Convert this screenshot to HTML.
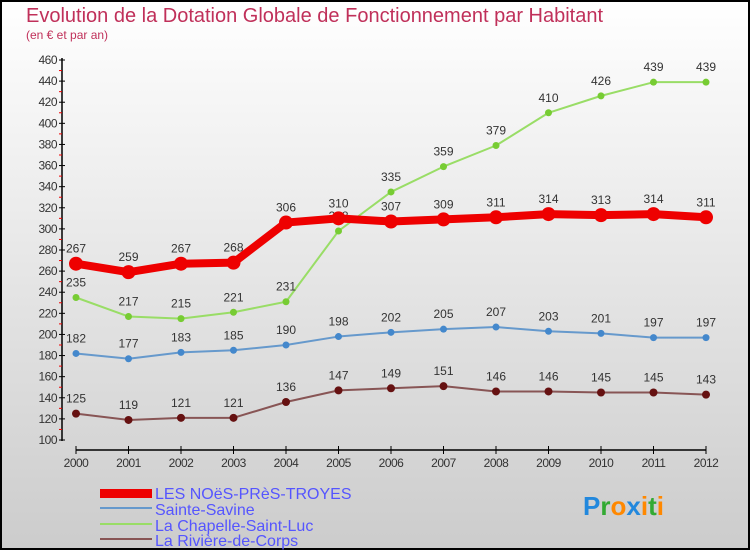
<!DOCTYPE html>
<html><head><meta charset="utf-8"><style>
body{margin:0;width:750px;height:550px;overflow:hidden;font-family:"Liberation Sans",sans-serif}
svg{display:block}
</style></head><body>
<svg width="750" height="550" id="c">
<defs><linearGradient id="bg" x1="0" y1="0" x2="0" y2="1"><stop offset="0" stop-color="#ffffff"/><stop offset="1" stop-color="#cccccc"/></linearGradient></defs>
<rect x="1" y="1" width="748" height="548" fill="url(#bg)" stroke="#000" stroke-width="2"/>
<text x="26" y="22" font-size="20" fill="#c0305a">Evolution de la Dotation Globale de Fonctionnement par Habitant</text>
<text x="26" y="39" font-size="12" fill="#c0305a">(en € et par an)</text>
<g id="axes"></g><g id="series"></g>
<g>
<rect x="100" y="489" width="52" height="9" fill="#ee0000"/>
<text x="155" y="499" font-size="16" fill="#5555ff">LES NOëS-PRèS-TROYES</text>
<line x1="100" y1="508" x2="152" y2="508" stroke="#6699cc" stroke-width="2"/>
<text x="155" y="515" font-size="16" fill="#5555ff">Sainte-Savine</text>
<line x1="100" y1="524" x2="152" y2="524" stroke="#99dd66" stroke-width="2"/>
<text x="155" y="531" font-size="16" fill="#5555ff">La Chapelle-Saint-Luc</text>
<line x1="100" y1="539" x2="152" y2="539" stroke="#885555" stroke-width="2"/>
<text x="155" y="546" font-size="16" fill="#5555ff">La Rivière-de-Corps</text>
</g>
<text x="583" y="515" font-size="26" font-weight="bold"><tspan fill="#2288dd">P</tspan><tspan fill="#33aa33">r</tspan><tspan fill="#ff8800">o</tspan><tspan fill="#2288dd">x</tspan><tspan fill="#ff8800">i</tspan><tspan fill="#33aa33">t</tspan><tspan fill="#ff8800">i</tspan></text>
</svg>
<script>
const years=[2000,2001,2002,2003,2004,2005,2006,2007,2008,2009,2010,2011,2012];
const yTicks=[100,120,140,160,180,200,220,240,260,280,300,320,340,360,380,400,420,440,460];
const noes=[267,259,267,268,306,310,307,309,311,314,313,314,311];
const savine=[182,177,183,185,190,198,202,205,207,203,201,197,197];
const chapelle=[235,217,215,221,231,298,335,359,379,410,426,439,439];
const riviere=[125,119,121,121,136,147,149,151,146,146,145,145,143];
const NS="http://www.w3.org/2000/svg";
const X=i=>76+i*52.5, Y=v=>440-(v-100)*380/360;
function mk(t,a,p){const e=document.createElementNS(NS,t);for(const k in a)e.setAttribute(k,a[k]);p.appendChild(e);return e;}
const ax=document.getElementById('axes'), sg=document.getElementById('series');
let l=mk('line',{x1:62,y1:58,x2:62,y2:441,stroke:'#000','stroke-width':1.5},ax);


l=mk('line',{x1:76,y1:450,x2:706,y2:450,stroke:'#000','stroke-width':1.5},ax);


yTicks.forEach(v=>{mk('line',{x1:59,x2:65,y1:Y(v),y2:Y(v),stroke:'#000'},ax);
 if(v<460)mk('line',{x1:59,x2:62,y1:Y(v+10),y2:Y(v+10),stroke:'#e00'},ax);
 const t=mk('text',{x:57,y:Y(v)+4,'font-size':12,'text-anchor':'end',fill:'#333','letter-spacing':'-0.5'},ax);t.textContent=v;
 
 });
years.forEach((y,i)=>{mk('line',{x1:X(i),x2:X(i),y1:446,y2:454,stroke:'#000'},ax);
 const t=mk('text',{x:X(i),y:467,'font-size':12,'text-anchor':'middle',fill:'#333','letter-spacing':'-0.5'},ax);t.textContent=y;
 
 });
function series(d,col,dot,w,r,name){
 const p=mk('polyline',{points:d.map((v,i)=>X(i)+','+Y(v)).join(' '),fill:'none',stroke:col,'stroke-width':w,'stroke-linejoin':'round'},sg);
 
 
 d.forEach((v,i)=>{const c=mk('circle',{cx:X(i),cy:Y(v),r:r,fill:dot},sg);
  
  
  const t=mk('text',{x:X(i),y:Y(v)-11,'font-size':12,'text-anchor':'middle',fill:'#333'},sg);t.textContent=v;
  
  });
}
series(riviere,'#885555','#661111',2,4,'riviere');
series(savine,'#6699cc','#4488cc',2,3.5,'sainte-savine');
series(chapelle,'#99dd66','#77cc33',2,3.5,'chapelle');
series(noes,'#ee0000','#ee0000',8,7,'noes');
</script>
</body></html>
